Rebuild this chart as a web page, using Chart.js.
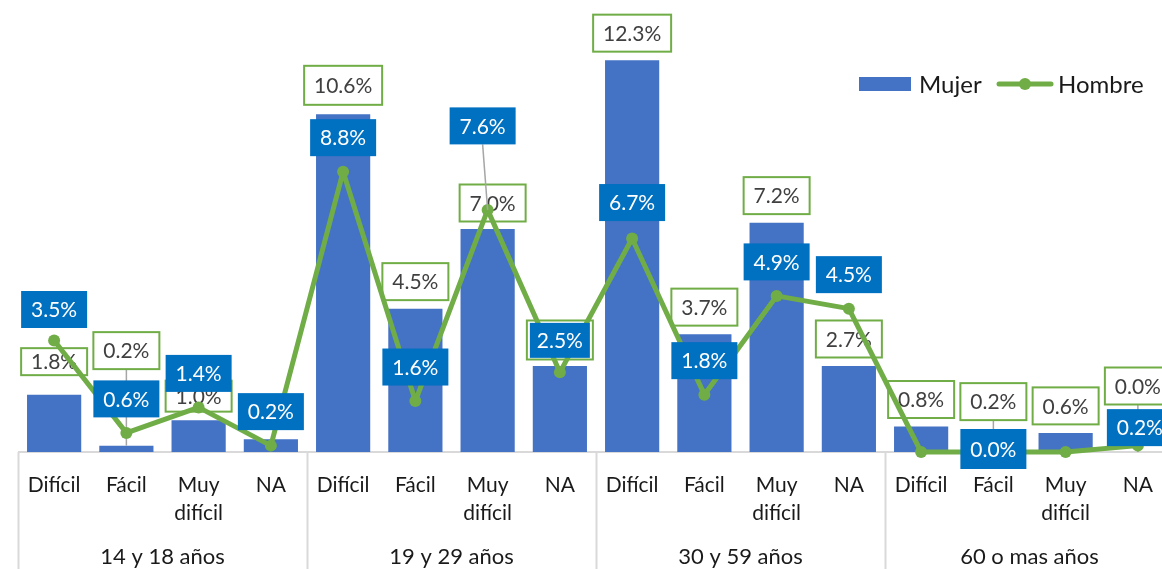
<!DOCTYPE html>
<html lang="es">
<head>
<meta charset="utf-8">
<title>Dificultad según grupo de edad y sexo</title>
<script src="https://cdn.jsdelivr.net/npm/chart.js@4.4.1/dist/chart.umd.min.js"></script>
<style>
  html, body { margin: 0; padding: 0; background: #fff; overflow: hidden; }
  #wrap { width: 1162px; height: 569px; overflow: hidden; position: relative; }
  canvas { display: block; }
</style>
</head>
<body>
<div id="wrap"><canvas id="chart" width="1180" height="569"></canvas></div>
<script>
// Categories (repeated inside each age group) and the age groups themselves
const categories = [
  'Difícil', 'Fácil', 'Muy difícil', 'NA',
  'Difícil', 'Fácil', 'Muy difícil', 'NA',
  'Difícil', 'Fácil', 'Muy difícil', 'NA',
  'Difícil', 'Fácil', 'Muy difícil', 'NA'
];
const ageGroups = ['14 y 18 años', '19 y 29 años', '30 y 59 años', '60 o mas años'];
const perGroup = 4;

// Percentages per series
const mujer  = [1.8, 0.2, 1.0, 0.4, 10.6, 4.5, 7.0, 2.7, 12.3, 3.7, 7.2, 2.7, 0.8, 0.2, 0.6, 0.0];
const hombre = [3.5, 0.6, 1.4, 0.2, 8.8, 1.6, 7.6, 2.5, 6.7, 1.8, 4.9, 4.5, 0.0, 0.0, 0.0, 0.2];

// Value axis range
const yMin = 0;
const yMax = 14;

// Colours and fonts
const BAR_BLUE = '#4472C4';
const LINE_GREEN = '#70AD47';
const LABEL_BLUE = '#0070C0';
const AXIS_GREY = '#D9D9D9';
const LEADER_GREY = '#A6A6A6';
const FONT = 'Lato, "Open Sans", sans-serif';

// Label placement relative to the data point (pixels): defaults plus per-index tweaks.
// hide: label not shown; leader: draw a leader line from the box to the point.
const barLabelDefault = { dx: 0, dy: -27, h: 37 };
const barLabelTweaks = {
  0:  { dy: -33, h: 27 },
  1:  { dy: -95, leader: true },
  2:  { dy: -24, h: 31 },
  3:  { hide: true },
  4:  { dy: -29, h: 39 },
  6:  { dx: 5, dy: -26 },
  7:  { dy: -26, h: 39 },
  13: { dy: -44, leader: true },
  15: { dy: -66, leader: true }
};
const lineLabelDefault = { dx: 0, dy: -34, h: 37 };
const lineLabelTweaks = {
  0:  { dy: -31 },
  6:  { dx: -5, dy: -84, leader: true },
  7:  { dy: -32, w: 60, h: 35 },
  8:  { dy: -36 },
  12: { hide: true },
  13: { dy: -3, h: 40 },
  14: { hide: true },
  15: { dx: 2, dy: -18 }
};

const fmt = v => v.toFixed(1) + '%';

function boxRect(ctx, cx, cy, text, spec) {
  const w = spec.w || Math.max(62, Math.round(ctx.measureText(text).width + 20));
  const h = spec.h;
  return { x: cx - w / 2, y: cy - h / 2, w, h };
}

function drawLabels(chart, dsIndex, values, def, tweaks, style) {
  const ctx = chart.ctx;
  const meta = chart.getDatasetMeta(dsIndex);
  ctx.save();
  ctx.font = '21px ' + FONT;
  values.forEach((v, i) => {
    const spec = Object.assign({}, def, tweaks[i] || {});
    if (spec.hide) return;
    const el = meta.data[i];
    const px = el.x;
    const py = el.y;
    const cx = px + spec.dx;
    const cy = py + spec.dy;
    const text = fmt(v);
    const r = boxRect(ctx, cx, cy, text, spec);
    if (spec.leader) {
      ctx.strokeStyle = LEADER_GREY;
      ctx.lineWidth = 1.5;
      ctx.beginPath();
      ctx.moveTo(cx, r.y + r.h);
      ctx.lineTo(px, py);
      ctx.stroke();
    }
    if (style === 'outline') {
      ctx.fillStyle = '#FFFFFF';
      ctx.fillRect(r.x, r.y, r.w, r.h);
      ctx.strokeStyle = LINE_GREEN;
      ctx.lineWidth = 2;
      ctx.strokeRect(r.x, r.y, r.w, r.h);
      ctx.fillStyle = '#404040';
    } else {
      ctx.fillStyle = LABEL_BLUE;
      ctx.fillRect(r.x, r.y, r.w, r.h);
      ctx.fillStyle = '#FFFFFF';
    }
    ctx.textAlign = 'center';
    ctx.textBaseline = 'middle';
    ctx.fillText(text, cx, cy + 1);
  });
  ctx.restore();
}

// Bar labels go right after the bars, so the line passes over them;
// line labels go on top of everything.
const labelPlugin = {
  id: 'valueLabels',
  afterDatasetDraw(chart, args) {
    if (args.index === 0) drawLabels(chart, 0, mujer, barLabelDefault, barLabelTweaks, 'outline');
  },
  afterDatasetsDraw(chart) {
    drawLabels(chart, 1, hombre, lineLabelDefault, lineLabelTweaks, 'filled');
  }
};

// Baseline, group separators and group names under the category labels
const groupAxisPlugin = {
  id: 'groupAxis',
  beforeDatasetsDraw(chart) {
    const { ctx, chartArea, scales } = chart;
    const x = scales.x;
    const step = (x.getPixelForValue(1) - x.getPixelForValue(0));
    ctx.save();
    ctx.strokeStyle = AXIS_GREY;
    ctx.lineWidth = 2;
    ctx.beginPath();
    ctx.moveTo(chartArea.left, chartArea.bottom);
    ctx.lineTo(chartArea.right, chartArea.bottom);
    ctx.stroke();
    for (let g = 0; g <= ageGroups.length; g++) {
      const bx = Math.round(x.getPixelForValue(g * perGroup) - step / 2) + 0.5;
      ctx.beginPath();
      ctx.moveTo(bx, chartArea.bottom);
      ctx.lineTo(bx, chart.height);
      ctx.stroke();
    }
    ctx.fillStyle = '#1A1A1A';
    ctx.font = '22px ' + FONT;
    ctx.textAlign = 'center';
    ctx.textBaseline = 'middle';
    ageGroups.forEach((name, g) => {
      const left = x.getPixelForValue(g * perGroup) - step / 2;
      ctx.fillText(name, left + step * perGroup / 2, 557);
    });
    ctx.restore();
  }
};

// Legend in the upper-right corner
const legendPlugin = {
  id: 'cornerLegend',
  afterDraw(chart) {
    const ctx = chart.ctx;
    ctx.save();
    ctx.fillStyle = BAR_BLUE;
    ctx.fillRect(859, 77, 52, 14);
    ctx.fillStyle = '#1A1A1A';
    ctx.font = '24px ' + FONT;
    ctx.textAlign = 'left';
    ctx.textBaseline = 'middle';
    ctx.fillText('Mujer', 919, 85);
    ctx.strokeStyle = LINE_GREEN;
    ctx.lineWidth = 5;
    ctx.lineCap = 'round';
    ctx.beginPath();
    ctx.moveTo(999, 84);
    ctx.lineTo(1051, 84);
    ctx.stroke();
    ctx.fillStyle = LINE_GREEN;
    ctx.beginPath();
    ctx.arc(1025, 84, 6, 0, Math.PI * 2);
    ctx.fill();
    ctx.fillStyle = '#1A1A1A';
    ctx.fillText('Hombre', 1058, 85);
    ctx.restore();
  }
};

function build() {
  new Chart(document.getElementById('chart'), {
    type: 'bar',
    data: {
      labels: categories,
      datasets: [
        {
          type: 'bar',
          label: 'Mujer',
          data: mujer,
          backgroundColor: BAR_BLUE,
          barPercentage: 0.75,
          categoryPercentage: 1.0,
          order: 2
        },
        {
          type: 'line',
          label: 'Hombre',
          data: hombre,
          borderColor: LINE_GREEN,
          backgroundColor: LINE_GREEN,
          borderWidth: 5,
          borderJoinStyle: 'round',
          borderCapStyle: 'round',
          pointRadius: 6,
          pointBorderWidth: 0,
          pointBackgroundColor: LINE_GREEN,
          tension: 0,
          clip: false,
          order: 1
        }
      ]
    },
    options: {
      responsive: false,
      animation: false,
      layout: { padding: { left: 18, right: 6, top: 0, bottom: 0 } },
      plugins: {
        legend: { display: false },
        tooltip: { enabled: false }
      },
      scales: {
        x: {
          offset: true,
          grid: { display: false, drawTicks: false },
          border: { display: false },
          afterFit(scale) { scale.height = 117; },
          ticks: {
            autoSkip: false,
            maxRotation: 0,
            padding: 20,
            color: '#1A1A1A',
            font: { family: FONT, size: 21, lineHeight: 1.3 },
            callback(value, index) {
              const s = categories[index];
              return s.indexOf(' ') > 0 ? s.split(' ') : s;
            }
          }
        },
        y: {
          display: false,
          min: yMin,
          max: yMax,
          grid: { display: false }
        }
      }
    },
    plugins: [labelPlugin, groupAxisPlugin, legendPlugin]
  });
}

if (document.fonts && document.fonts.load) {
  document.fonts.load('21px Lato').then(build, build);
} else {
  build();
}
</script>
</body>
</html>
